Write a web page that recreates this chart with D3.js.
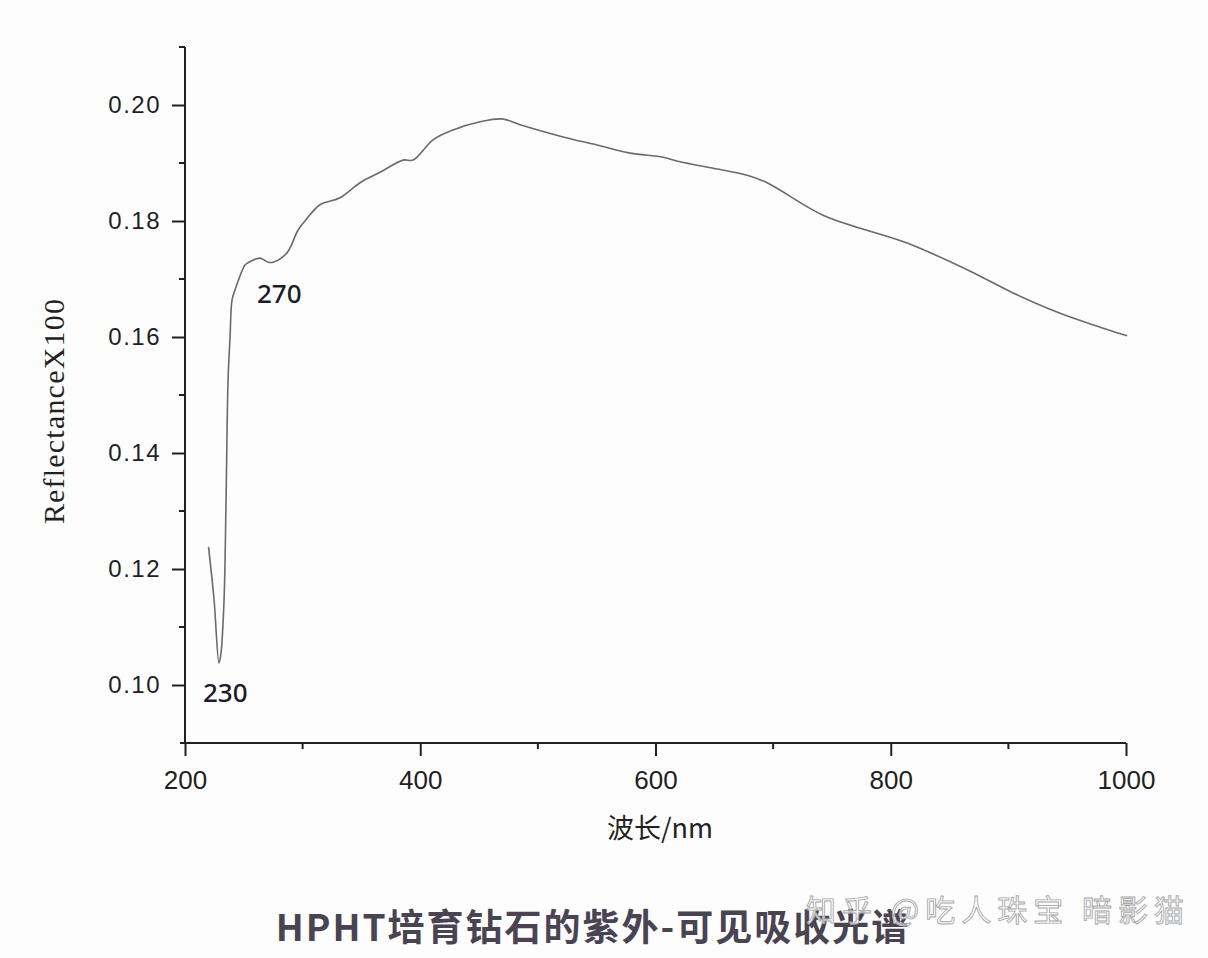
<!DOCTYPE html>
<html><head><meta charset="utf-8">
<script src="https://cdn.jsdelivr.net/npm/d3@7"></script>
<style>html,body{margin:0;padding:0;background:#fdfdfe;}svg{display:block;}</style>
</head><body>
<svg id="c" width="1208" height="958"></svg>
<script>
const wavelength = [220,224.7,228.9,230.6,233.2,234.9,236.6,238.3,240,242.5,251,253.6,263.8,270.6,274.8,286.7,296,302,314.8,331.8,348.8,365.8,385.4,393.9,410.9,427.9,450.9,469.6,484.9,521.4,550.3,578.4,606.5,620.9,649,677.9,694.9,742.5,799.5,814,865,904,944,978,1001];
const reflectance = [0.1238,0.1147,0.1038,0.1055,0.1147,0.1319,0.1526,0.160,0.1664,0.1681,0.1724,0.1728,0.1736,0.1729,0.1729,0.1745,0.1784,0.1800,0.1828,0.1840,0.1866,0.1884,0.1905,0.1905,0.1940,0.1957,0.1971,0.1976,0.1966,0.1945,0.1931,0.1917,0.1910,0.1902,0.1891,0.1879,0.1866,0.1810,0.1772,0.1762,0.1716,0.1676,0.1641,0.1617,0.1602];
const xMajorTicks = [200,400,600,800,1000];
const xMinorTicks = [300,500,700,900];
const yMajorTicks = [0.10,0.12,0.14,0.16,0.18,0.20];
const yMinorTicks = [0.11,0.13,0.15,0.17,0.19,0.21];
const peakLabels = [{wl:230, text:"230"},{wl:270, text:"270"}];
const xTitle = "波长/nm";
const yTitle = "ReflectanceX100";
const chartTitle = "HPHT培育钻石的紫外-可见吸收光谱";
const watermark = "知乎 @吃人珠宝 暗影猫";

(function(){
const svg = d3.select("#c");
const mL = 185, mR = 1126, mT = 47, mB = 743;
const x = d3.scaleLinear().domain([200,1000]).range([mL,mR]);
const y = d3.scaleLinear().domain([0.09,0.21]).range([mB,mT]);

const axisColor = "#231f20";
const tickFont = "'Liberation Sans', Arial, sans-serif";
// y axis
const gy = svg.append("g").attr("transform",`translate(${mL},0)`);
gy.call(d3.axisLeft(y).tickValues(yMajorTicks).tickSize(13).tickPadding(11).tickFormat(d3.format(".2f")));
gy.call(g=>g.select(".domain").remove());
gy.append("line").attr("x1",0).attr("x2",0).attr("y1",mT).attr("y2",mB).attr("stroke",axisColor).attr("stroke-width",2);
gy.selectAll(".minor").data(yMinorTicks).join("line").attr("class","minor")
  .attr("x1",-6).attr("x2",0).attr("y1",d=>y(d)).attr("y2",d=>y(d)).attr("stroke",axisColor).attr("stroke-width",2);
gy.selectAll(".tick line").attr("stroke",axisColor).attr("stroke-width",2);
gy.selectAll(".tick text").attr("fill","#231f20").style("font-family",tickFont).style("font-size","24px").style("letter-spacing","1.5px");

// x axis
const gx = svg.append("g").attr("transform",`translate(0,${mB})`);
gx.call(d3.axisBottom(x).tickValues(xMajorTicks).tickSize(13).tickPadding(15).tickFormat(d3.format("d")));
gx.call(g=>g.select(".domain").remove());
gx.append("line").attr("x1",mL-5).attr("x2",mR).attr("y1",0).attr("y2",0).attr("stroke",axisColor).attr("stroke-width",2);
gx.selectAll(".minor").data(xMinorTicks).join("line").attr("class","minor")
  .attr("x1",d=>x(d)).attr("x2",d=>x(d)).attr("y1",0).attr("y2",6).attr("stroke",axisColor).attr("stroke-width",2);
gx.selectAll(".tick line").attr("stroke",axisColor).attr("stroke-width",2);
gx.selectAll(".tick text").attr("fill","#231f20").style("font-family",tickFont).style("font-size","26px");

// curve
const pts = wavelength.map((w,i)=>[w,reflectance[i]]);
svg.append("path").datum(pts)
  .attr("d", d3.line().x(d=>x(d[0])).y(d=>y(d[1])).curve(d3.curveCatmullRom.alpha(0.5)))
  .attr("fill","none").attr("stroke","#6a6a6e").attr("stroke-width",1.6);

// peak labels
const labelPos = {"230":[203,702],"270":[257,303]};
svg.selectAll(".pk").data(peakLabels).join("text").attr("class","pk")
  .attr("x",d=>labelPos[d.text][0]).attr("y",d=>labelPos[d.text][1])
  .text(d=>d.text).attr("fill","#1e1a2a")
  .style("font-family","'Noto Sans', 'Open Sans', sans-serif").style("font-size","26px").style("font-weight","500");

// titles
svg.append("text").attr("x",660).attr("y",838).attr("text-anchor","middle").text(xTitle)
  .attr("fill","#231f20").style("font-family","'Noto Sans CJK SC', sans-serif").style("font-size","27px");
svg.append("text").attr("transform","translate(64,411) rotate(-90)").attr("text-anchor","middle").text(yTitle)
  .attr("fill","#231f20").style("font-family","'Liberation Serif', 'Times New Roman', serif").style("font-size","30px").style("letter-spacing","1.2px");
svg.append("text").attr("x",593).attr("y",941).attr("text-anchor","middle").text(chartTitle)
  .attr("fill","#4a4452").style("font-family","'Noto Sans CJK SC', sans-serif").style("font-weight","bold").style("font-size","37px").style("letter-spacing","2px");
svg.append("text").attr("x",998).attr("y",921).attr("text-anchor","middle").text(watermark)
  .attr("fill","#ffffff").attr("fill-opacity",0.7).attr("stroke","#a8a8a8").attr("stroke-width",0.9)
  .style("font-family","'Noto Sans CJK SC', sans-serif").style("font-size","30px").style("letter-spacing","6px");
})();
</script>
</body></html>
